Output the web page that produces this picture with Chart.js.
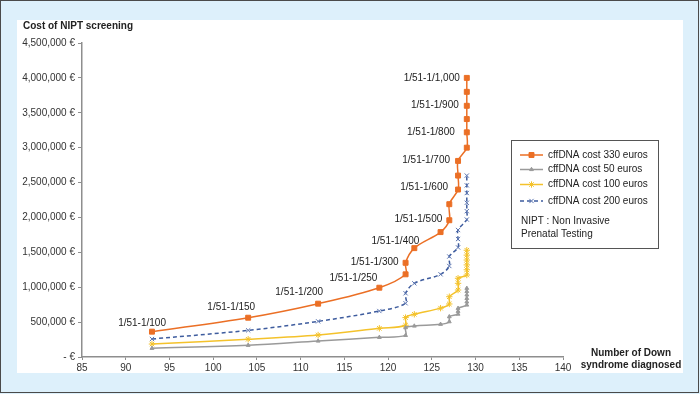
<!DOCTYPE html>
<html>
<head>
<meta charset="utf-8">
<script src="https://cdn.jsdelivr.net/npm/chart.js@4/dist/chart.umd.min.js"></script>
<style>
  html, body { margin: 0; padding: 0; background: #fff; }
  #wrap { width: 700px; height: 394px; }
</style>
</head>
<body>
<div id="wrap"><canvas id="chart" width="700" height="394"></canvas></div>
<script>
// number of Down syndrome cases diagnosed, one per risk cut-off (1/51-1/100 ... 1/51-1/1,000)
const diagnosed = [93, 104, 112, 119, 122, 122, 123, 126, 127, 127, 128, 128, 128, 129, 129, 129, 129, 129, 129];

// cost of screening (€) per cffDNA price
const cost330 = [363000, 563000, 764000, 993000, 1185000, 1350000, 1560000, 1790000, 1960000, 2190000,
  2400000, 2600000, 2810000, 3000000, 3220000, 3410000, 3600000, 3800000, 4000000];
const cost50 = [125000, 168000, 229000, 282000, 310000, 420000, 444000, 469000, 506000, 578000,
  615000, 655000, 698000, 745000, 790000, 840000, 890000, 940000, 985000];
const cost100 = [186000, 254000, 315000, 411000, 455000, 565000, 612000, 700000, 760000, 864000,
  960000, 1056000, 1128000, 1175000, 1250000, 1320000, 1390000, 1460000, 1530000];
const cost200 = [258000, 382000, 511000, 659000, 770000, 913000, 1056000, 1185000, 1304000, 1440000,
  1570000, 1690000, 1820000, 1970000, 2090000, 2210000, 2350000, 2460000, 2600000];

const seriesNames = ["cffDNA cost 330 euros", "cffDNA cost 50 euros", "cffDNA cost 100 euros", "cffDNA cost 200 euros"];

// labels on the 330 € curve: [point index, text]
const cutoffLabels = [
  [0, "1/51-1/100"], [2, "1/51-1/150"], [4, "1/51-1/200"], [6, "1/51-1/250"],
  [8, "1/51-1/300"], [12, "1/51-1/400"], [16, "1/51-1/500"], [20, "1/51-1/600"],
  [24, "1/51-1/700"], [28, "1/51-1/800"], [32, "1/51-1/900"], [36, "1/51-1/1,000"],
];

const xTicks = [85, 90, 95, 100, 105, 110, 115, 120, 125, 130, 135, 140];
const noteLines = ["NIPT : Non Invasive", "Prenatal Testing"];

// label anchor offsets from their point (right edge dx, centre dy) – layout only
const labelOffsets = [[14, -8], [7, -10], [5, -11], [-2, -9], [-7, -12], [5, -7],
  [-7, -1], [-10, -2], [-8, -1], [-12, 0], [-8, -1], [-7, 0]];

const FONT = "Liberation Sans, Arial, Helvetica, sans-serif";
const COLORS = { orange: "#EB6F25", grey: "#9A9A9A", yellow: "#F4C22B", blue: "#3E5C9E", text: "#222", axis: "#8E8E8E" };

function pts(values) {
  return values.map((v, i) => ({ x: diagnosed[i], y: v }));
}

// index list -> label positions (cutoffLabels use threshold steps of 1/50)
const labelIndex = cutoffLabels.map(([i]) => i / 2);

const framePlugin = {
  id: "frame",
  beforeDraw(chart) {
    const ctx = chart.ctx;
    ctx.save();
    ctx.fillStyle = "#DDF0FB";
    ctx.fillRect(0, 0, 700, 394);
    ctx.fillStyle = "#ffffff";
    ctx.fillRect(17, 20, 666, 353);
    ctx.strokeStyle = "#4a4a4a";
    ctx.lineWidth = 1;
    ctx.strokeRect(0.5, 0.5, 698, 392);
    ctx.restore();
  },
  afterDraw(chart) {
    const ctx = chart.ctx;
    ctx.save();
    ctx.fillStyle = COLORS.text;
    ctx.font = "bold 10px " + FONT;
    ctx.textBaseline = "middle";
    ctx.textAlign = "left";
    ctx.fillText("Cost of NIPT screening", 23, 26);
    ctx.textAlign = "center";
    ctx.fillText("Number of Down", 631, 353);
    ctx.fillText("syndrome diagnosed", 631, 365);

    // cut-off labels on the 330 € curve
    const meta = chart.getDatasetMeta(0);
    ctx.font = "10px " + FONT;
    ctx.textAlign = "right";
    cutoffLabels.forEach(([, text], k) => {
      const p = meta.data[labelIndex[k]];
      const [dx, dy] = labelOffsets[k];
      ctx.fillText(text, p.x + dx, p.y + dy);
    });

    // legend box
    const bx = 511, by = 140, bw = 147, bh = 108;
    ctx.fillStyle = "#fff";
    ctx.fillRect(bx, by, bw, bh);
    ctx.strokeStyle = "#555";
    ctx.lineWidth = 1;
    ctx.strokeRect(bx + 0.5, by + 0.5, bw, bh);
    const rows = [155, 169.5, 184.5, 201];
    chart.data.datasets.forEach((ds, i) => {
      const y = rows[i];
      ctx.save();
      ctx.strokeStyle = ds.borderColor;
      ctx.lineWidth = ds.borderWidth;
      ctx.setLineDash(ds.borderDash || []);
      ctx.beginPath();
      ctx.moveTo(520, y);
      ctx.lineTo(543, y);
      ctx.stroke();
      ctx.restore();
      ctx.save();
      ctx.fillStyle = ds.pointBackgroundColor;
      ctx.strokeStyle = ds.pointBorderColor;
      ctx.lineWidth = ds.pointBorderWidth;
      Chart.helpers.drawPoint(ctx, { pointStyle: ds.pointStyle, radius: ds.pointRadius, rotation: 0, borderWidth: ds.pointBorderWidth }, 531.5, y);
      ctx.restore();
      ctx.fillStyle = COLORS.text;
      ctx.textAlign = "left";
      ctx.font = "10px " + FONT;
      ctx.fillText(ds.label, 548, y);
    });
    ctx.fillText(noteLines[0], 521, 221);
    ctx.fillText(noteLines[1], 521, 234);
    ctx.restore();
  },
};

function series(label, data, color, style, radius, extra = {}) {
  return {
    label,
    data: pts(data),
    borderColor: color,
    backgroundColor: color,
    borderWidth: 1.5,
    pointStyle: style,
    pointRadius: radius,
    pointBackgroundColor: color,
    pointBorderColor: color,
    pointBorderWidth: 1,
    tension: 0.35,
    ...extra,
  };
}

new Chart(document.getElementById("chart"), {
  type: "line",
  data: {
    datasets: [
      series(seriesNames[0], cost330, COLORS.orange, "rect", 3.5),
      series(seriesNames[1], cost50, COLORS.grey, "triangle", 2.2),
      series(seriesNames[2], cost100, COLORS.yellow, "star", 3.2),
      series(seriesNames[3], cost200, COLORS.blue, "crossRot", 3, { borderDash: [4, 3], pointBorderColor: "#5A74B0" }),
    ],
  },
  options: {
    responsive: false,
    animation: false,
    layout: { padding: { left: 0, right: 137, top: 43, bottom: 0 } },
    plugins: { legend: { display: false }, tooltip: { enabled: false } },
    scales: {
      x: {
        type: "linear",
        min: 85,
        max: 140,
        afterBuildTicks: (scale) => { scale.ticks = xTicks.map((v) => ({ value: v })); },
        afterFit: (scale) => { scale.height = 37; },
        grid: { drawOnChartArea: false, tickLength: 3, color: COLORS.axis },
        border: { color: COLORS.axis, width: 1.5 },
        ticks: { color: "#333", font: { size: 10, family: FONT }, padding: 2, maxRotation: 0 },
      },
      y: {
        min: 0,
        max: 4500000,
        afterFit: (scale) => { scale.width = 82; },
        grid: { drawOnChartArea: false, tickLength: 4, color: COLORS.axis },
        border: { color: COLORS.axis, width: 1.5 },
        ticks: {
          stepSize: 500000,
          color: "#333",
          padding: 3,
          font: { size: 10, family: FONT },
          callback: (v) => (v === 0 ? "- €" : v.toLocaleString("en-US") + " €"),
        },
      },
    },
  },
  plugins: [framePlugin],
});
</script>
</body>
</html>
